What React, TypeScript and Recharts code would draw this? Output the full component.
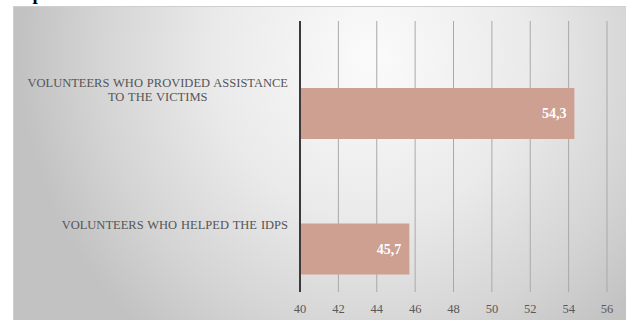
import React from "react";
import { BarChart, Bar, XAxis, YAxis, CartesianGrid, LabelList } from "recharts";

const categories = [
  "VOLUNTEERS WHO PROVIDED ASSISTANCE TO THE VICTIMS",
  "VOLUNTEERS WHO HELPED THE IDPS",
];
const categoryLines = [
  ["VOLUNTEERS WHO PROVIDED ASSISTANCE", "TO THE VICTIMS"],
  ["VOLUNTEERS WHO HELPED THE IDPS"],
];
const values = [54.3, 45.7];
const xTicks = [40, 42, 44, 46, 48, 50, 52, 54, 56];

const data = categories.map((name, i) => ({ name, value: values[i] }));

const SERIF = "'Liberation Serif', 'Times New Roman', serif";

const CategoryTick = (props: any) => {
  const { x, y, payload } = props;
  const idx = categories.indexOf(payload.value);
  const lines = idx >= 0 ? categoryLines[idx] : [String(payload.value)];
  return (
    <foreignObject x={x - 295} y={y - 29} width={283} height={60}>
      <div
        style={{
          display: "flex",
          height: "100%",
          alignItems: "center",
          justifyContent: "flex-end",
        }}
      >
        <div
          style={{
            textAlign: "center",
            fontFamily: SERIF,
            fontSize: 12.5,
            lineHeight: "14px",
            color: "#555555",
            whiteSpace: "nowrap",
            wordSpacing: 0.8,
          }}
        >
          {lines.map((l, i) => (
            <div key={i}>{l}</div>
          ))}
        </div>
      </div>
    </foreignObject>
  );
};

export default function App() {
  return (
    <div>
      <div
        style={{
          position: "absolute",
          left: 13,
          top: -16,
          fontFamily: SERIF,
          fontWeight: "bold",
          fontSize: 19,
          lineHeight: "19px",
          letterSpacing: 0.8,
          color: "#000",
        }}
      >
        experience:
      </div>
      <div
        style={{
          position: "absolute",
          left: 13,
          top: 6,
          width: 640,
          height: 330,
          boxSizing: "border-box",
          border: "1px solid #cfcfcf",
          background:
            "radial-gradient(ellipse 55% 110% at 56% 15%, #fbfbfb 0%, #eaeaea 45%, #d4d4d4 78%, #c2c2c2 100%)",
        }}
      >
        <BarChart
          width={640}
          height={330}
          data={data}
          layout="vertical"
          margin={{ top: 15, right: 46, bottom: 14, left: 0 }}
          style={{ position: "absolute", left: -1, top: -1 }}
        >
          <CartesianGrid horizontal={false} stroke="#a9a9a9" strokeWidth={1} />
          <XAxis
            type="number"
            domain={[40, 56]}
            ticks={xTicks}
            allowDataOverflow
            axisLine={false}
            tickLine={false}
            tickMargin={6}
            height={30}
            tick={{ fontFamily: SERIF, fontSize: 12.5, fill: "#595959" }}
          />
          <YAxis
            yAxisId="bars"
            type="category"
            dataKey="name"
            hide
            width={0}
            padding={{ top: 25, bottom: -25 }}
          />
          <YAxis
            yAxisId="labels"
            type="category"
            dataKey="name"
            width={287}
            axisLine={{ stroke: "#3a3a3a", strokeWidth: 2 }}
            tickLine={false}
            tickSize={0}
            tickMargin={0}
            tick={<CategoryTick />}
            interval={0}
          />
          <Bar
            yAxisId="bars"
            dataKey="value"
            fill="#cda092"
            barSize={51}
            isAnimationActive={false}
          >
            <LabelList
              dataKey="value"
              position="insideRight"
              offset={8}
              formatter={(v: any) => String(v).replace(".", ",")}
              style={{ fontFamily: SERIF, fontSize: 14, fontWeight: "bold", fill: "#ffffff" }}
            />
          </Bar>
        </BarChart>
      </div>
    </div>
  );
}
